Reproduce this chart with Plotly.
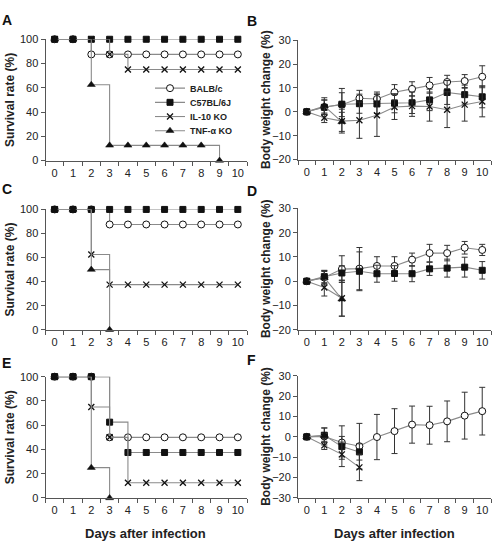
import plotly.graph_objects as go

W, H = 495, 547
days = list(range(11))
x_ticklabels = [str(d) for d in days]
strains = ["BALB/c", "C57BL/6J", "IL-10 KO", "TNF-α KO"]

# ---------------- Survival rate (%) ----------------
surv_A_balb = [100, 100, 87.5, 87.5, 87.5, 87.5, 87.5, 87.5, 87.5, 87.5, 87.5]
surv_A_c57 = [100, 100, 100, 100, 100, 100, 100, 100, 100, 100, 100]
surv_A_il10 = [100, 100, 100, 87.5, 75, 75, 75, 75, 75, 75, 75]
surv_A_tnf = [100, 100, 62.5, 12.5, 12.5, 12.5, 12.5, 12.5, 12.5, 0]

surv_C_balb = [100, 100, 100, 87.5, 87.5, 87.5, 87.5, 87.5, 87.5, 87.5, 87.5]
surv_C_c57 = [100, 100, 100, 100, 100, 100, 100, 100, 100, 100, 100]
surv_C_il10 = [100, 100, 62.5, 37.5, 37.5, 37.5, 37.5, 37.5, 37.5, 37.5, 37.5]
surv_C_tnf = [100, 100, 50, 0]

surv_E_balb = [100, 100, 100, 50, 50, 50, 50, 50, 50, 50, 50]
surv_E_c57 = [100, 100, 100, 62.5, 37.5, 37.5, 37.5, 37.5, 37.5, 37.5, 37.5]
surv_E_il10 = [100, 100, 75, 50, 12.5, 12.5, 12.5, 12.5, 12.5, 12.5, 12.5]
surv_E_tnf = [100, 100, 25, 0]

# ---------------- Body weight change (%) mean and SD ----------------
wt_B_balb = [0, 2.0, 3.0, 5.7, 5.4, 8.2, 9.6, 11.1, 12.5, 12.9, 14.7]
wt_B_balb_sd = [0, 3.0, 5.0, 3.3, 2.9, 3.2, 3.0, 3.3, 2.8, 2.7, 4.6]
wt_B_c57 = [0, 1.9, 3.2, 3.4, 3.3, 3.6, 3.8, 5.0, 8.1, 7.2, 6.3]
wt_B_c57_sd = [0, 3.0, 6.6, 4.0, 4.0, 4.0, 4.5, 4.5, 5.0, 4.0, 4.6]
wt_B_il10 = [0, -2.5, -3.9, -3.5, -1.4, 2.0, 2.4, 2.2, 0.9, 3.0, 4.3]
wt_B_il10_sd = [0, 2.0, 5.0, 7.6, 8.9, 5.2, 4.3, 6.1, 7.5, 6.9, 6.4]
wt_B_tnf = [0, 2.4, -4.2]
wt_B_tnf_sd = [0, 3.5, 4.0]

wt_D_balb = [0, 1.5, 5.0, 5.2, 6.3, 6.3, 8.9, 11.6, 11.6, 13.8, 12.9]
wt_D_balb_sd = [0, 2.5, 5.5, 8.7, 3.8, 3.8, 2.7, 3.6, 3.2, 2.6, 2.3]
wt_D_c57 = [0, 1.9, 3.4, 4.1, 3.1, 3.2, 3.1, 5.1, 5.4, 5.8, 4.5]
wt_D_c57_sd = [0, 2.5, 3.0, 8.0, 3.5, 3.2, 3.3, 2.7, 3.7, 4.1, 3.6]
wt_D_il10 = [0, -2.6, -7.0]
wt_D_il10_sd = [0, 3.5, 7.4]
wt_D_tnf = [0, 1.5, -7.4]
wt_D_tnf_sd = [0, 3.0, 7.0]

wt_F_balb = [0, 0.2, -2.8, -4.6, -0.1, 2.8, 6.0, 5.7, 7.6, 10.4, 12.6]
wt_F_balb_sd = [0, 4.2, 8.2, 11.2, 11.1, 11.0, 9.1, 9.3, 10.0, 11.5, 11.7]
wt_F_c57 = [0, 0.8, -4.8, -7.4]
wt_F_c57_sd = [0, 3.5, 5.0, 4.0]
wt_F_il10 = [0, -4.2, -8.6, -15.0]
wt_F_il10_sd = [0, 2.0, 6.0, 6.5]
wt_F_tnf = [0, 0.6]
wt_F_tnf_sd = [0, 1.0]

# ---------------- styles ----------------
LINE_GREY = "#8a8a8a"
MARK = {
    "BALB/c": dict(symbol="circle", size=7, color="white", line=dict(color="#111", width=1)),
    "C57BL/6J": dict(symbol="square", size=6, color="#111", line=dict(color="#111", width=1)),
    "IL-10 KO": dict(symbol="x-thin", size=6, color="#111", line=dict(color="#111", width=1.3)),
    "TNF-α KO": dict(symbol="triangle-up", size=7, color="#111", line=dict(color="#111", width=0.5)),
}
FONT = "Liberation Sans, Arial, sans-serif"
LEGEND_ROWS_PX = [84, 98.5, 113, 127.5]   # legend row centres (pixels)
LEGEND_NAMES = ["legend", "legend2", "legend3", "legend4"]


def px_x(p):
    return p / W


def px_y(p):
    return 1 - p / H


fig = go.Figure()

LEFT_X = (45.5, 247)
RIGHT_X = (298, 491)
panels = {
    "A": dict(ax=1, xd=LEFT_X, yd=(34, 158), yr=(0, 100), dt=20),
    "B": dict(ax=2, xd=RIGHT_X, yd=(35, 157), yr=(-20, 30), dt=10),
    "C": dict(ax=3, xd=LEFT_X, yd=(208, 331), yr=(0, 100), dt=20),
    "D": dict(ax=4, xd=RIGHT_X, yd=(207, 331), yr=(-20, 30), dt=10),
    "E": dict(ax=5, xd=LEFT_X, yd=(379, 503), yr=(0, 100), dt=20),
    "F": dict(ax=6, xd=RIGHT_X, yd=(378, 503), yr=(-30, 30), dt=10),
}


def axref(n):
    return ("x" if n == 1 else f"x{n}", "y" if n == 1 else f"y{n}")


def add_survival(panel, series, show_legend=False):
    xa, ya = axref(panels[panel]["ax"])
    for i, (name, vals) in enumerate(zip(strains, series)):
        fig.add_trace(go.Scatter(
            x=days[:len(vals)], y=vals, mode="lines+markers", name=name,
            line=dict(color=LINE_GREY, width=1.1, shape="hv"),
            marker=MARK[name], xaxis=xa, yaxis=ya, cliponaxis=False,
            legendgroup=name, showlegend=show_legend, legend=LEGEND_NAMES[i]))


def add_weight(panel, series):
    xa, ya = axref(panels[panel]["ax"])
    for name, (vals, sd) in zip(strains, series):
        fig.add_trace(go.Scatter(
            x=days[:len(vals)], y=vals, mode="lines+markers", name=name,
            line=dict(color=LINE_GREY, width=1.1),
            marker=MARK[name], xaxis=xa, yaxis=ya, cliponaxis=False,
            error_y=dict(type="data", array=sd, color="#333", thickness=1, width=3),
            legendgroup=name, showlegend=False))


add_survival("A", [surv_A_balb, surv_A_c57, surv_A_il10, surv_A_tnf], show_legend=True)
add_weight("B", [(wt_B_balb, wt_B_balb_sd), (wt_B_c57, wt_B_c57_sd),
                 (wt_B_il10, wt_B_il10_sd), (wt_B_tnf, wt_B_tnf_sd)])
add_survival("C", [surv_C_balb, surv_C_c57, surv_C_il10, surv_C_tnf])
add_weight("D", [(wt_D_balb, wt_D_balb_sd), (wt_D_c57, wt_D_c57_sd),
                 (wt_D_il10, wt_D_il10_sd), (wt_D_tnf, wt_D_tnf_sd)])
add_survival("E", [surv_E_balb, surv_E_c57, surv_E_il10, surv_E_tnf])
add_weight("F", [(wt_F_balb, wt_F_balb_sd), (wt_F_c57, wt_F_c57_sd),
                 (wt_F_il10, wt_F_il10_sd), (wt_F_tnf, wt_F_tnf_sd)])

layout = dict(
    width=W, height=H, margin=dict(l=0, r=0, t=0, b=0),
    paper_bgcolor="white", plot_bgcolor="white",
    font=dict(family=FONT, color="#222", size=11),
    showlegend=True,
    annotations=[],
)
for lg, ry in zip(LEGEND_NAMES, LEGEND_ROWS_PX):
    layout[lg] = dict(x=px_x(150), y=px_y(ry), xanchor="left", yanchor="middle",
                      bgcolor="rgba(0,0,0,0)", borderwidth=0,
                      font=dict(size=9, weight="bold", color="#222"),
                      itemwidth=30)

for key, p in panels.items():
    n = p["ax"]
    xk = "xaxis" if n == 1 else f"xaxis{n}"
    yk = "yaxis" if n == 1 else f"yaxis{n}"
    xa, ya = axref(n)
    layout[xk] = dict(
        domain=[px_x(p["xd"][0]), px_x(p["xd"][1])], anchor=ya,
        range=[-0.5, 10.5], tickmode="array", tickvals=days, ticktext=x_ticklabels,
        ticks="", showline=True, linecolor="#555", linewidth=1, showgrid=False,
        zeroline=False, ticklabelstandoff=2, tickfont=dict(size=11, color="#222"),
        minor=dict(tick0=-0.5, dtick=1, ticks="outside", ticklen=4, tickcolor="#555",
                   tickwidth=1, showgrid=False),
    )
    layout[yk] = dict(
        domain=[px_y(p["yd"][1]), px_y(p["yd"][0])], anchor=xa,
        range=list(p["yr"]), dtick=p["dt"], tick0=0,
        ticks="outside", ticklen=4, tickcolor="#555", showline=True, linecolor="#555",
        linewidth=1, showgrid=False, zeroline=False, tickfont=dict(size=11, color="#222"),
    )

ann = layout["annotations"]


def add_text(text, x, y, size, angle=0, xanchor="center", color="#222"):
    ann.append(dict(text=text, x=px_x(x), y=px_y(y), xref="paper", yref="paper",
                    xanchor=xanchor, yanchor="middle", textangle=angle, showarrow=False,
                    font=dict(size=size, color=color)))


for yc in [(34 + 158) / 2, (208 + 331) / 2, (379 + 503) / 2]:
    add_text("<b>Survival rate (%)</b>", 10, yc, 12, angle=-90)
for yc in [(35 + 157) / 2, (207 + 331) / 2, (378 + 503) / 2]:
    add_text("<b>Body weight change (%)</b>", 266, yc, 12, angle=-90)
for xc in [145, 394]:
    add_text("<b>Days after infection</b>", xc, 539, 13)
for t, lx, ly in [("A", 0, 14), ("B", 245, 15), ("C", 0, 187), ("D", 245, 189),
                  ("E", 0, 365), ("F", 245, 362)]:
    add_text(f"<b>{t}</b>", lx, ly, 14, xanchor="left", color="#111")

fig.update_layout(**layout)
fig.write_html("out.html")
